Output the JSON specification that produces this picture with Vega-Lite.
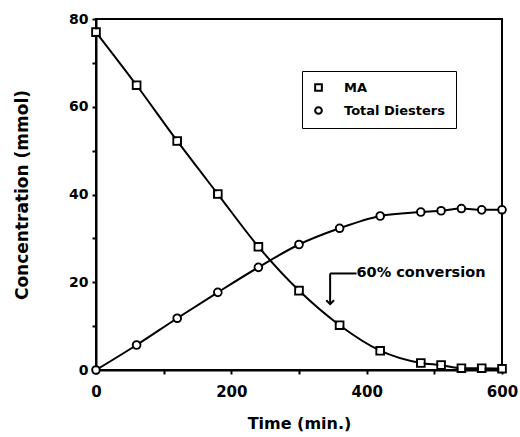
{
  "$schema": "https://vega.github.io/schema/vega-lite/v6.json",
  "width": 406,
  "height": 351,
  "autosize": {"type": "none"},
  "padding": {"left": 96, "top": 19, "right": 18, "bottom": 67},
  "background": "white",
  "config": {
    "view": {"stroke": "black", "strokeWidth": 2},
    "font": "DejaVu Sans",
    "axis": {
      "grid": false,
      "domainColor": "black",
      "domainWidth": 2,
      "tickColor": "black",
      "tickWidth": 2,
      "tickSize": 4,
      "labelColor": "black",
      "labelFont": "DejaVu Sans",
      "labelFontWeight": "bold",
      "labelFlush": false,
      "titleColor": "black",
      "titleFont": "DejaVu Sans",
      "titleFontWeight": "bold"
    },
    "legend": {
      "strokeColor": "black"
    }
  },
  "datasets": {
    "series": [
      {"t": 0, "c": 77.0, "s": "MA"},
      {"t": 60, "c": 64.9, "s": "MA"},
      {"t": 120, "c": 52.2, "s": "MA"},
      {"t": 180, "c": 40.1, "s": "MA"},
      {"t": 240, "c": 28.1, "s": "MA"},
      {"t": 300, "c": 18.1, "s": "MA"},
      {"t": 360, "c": 10.2, "s": "MA"},
      {"t": 420, "c": 4.4, "s": "MA"},
      {"t": 480, "c": 1.6, "s": "MA"},
      {"t": 510, "c": 1.1, "s": "MA"},
      {"t": 540, "c": 0.4, "s": "MA"},
      {"t": 570, "c": 0.4, "s": "MA"},
      {"t": 600, "c": 0.3, "s": "MA"},
      {"t": 0, "c": 0.0, "s": "Total Diesters"},
      {"t": 60, "c": 5.7, "s": "Total Diesters"},
      {"t": 120, "c": 11.8, "s": "Total Diesters"},
      {"t": 180, "c": 17.7, "s": "Total Diesters"},
      {"t": 240, "c": 23.4, "s": "Total Diesters"},
      {"t": 300, "c": 28.6, "s": "Total Diesters"},
      {"t": 360, "c": 32.3, "s": "Total Diesters"},
      {"t": 420, "c": 35.1, "s": "Total Diesters"},
      {"t": 480, "c": 36.0, "s": "Total Diesters"},
      {"t": 510, "c": 36.3, "s": "Total Diesters"},
      {"t": 540, "c": 36.8, "s": "Total Diesters"},
      {"t": 570, "c": 36.5, "s": "Total Diesters"},
      {"t": 600, "c": 36.5, "s": "Total Diesters"}
    ],
    "arrow": [
      {"t": 346, "t2": 385, "c": 22.0, "tip": 15.0, "label": "60% conversion"}
    ]
  },
  "layer": [
    {
      "data": {"name": "series"},
      "mark": {"type": "line", "interpolate": "monotone", "color": "black", "strokeWidth": 2},
      "encoding": {
        "x": {
          "field": "t", "type": "quantitative",
          "scale": {"domain": [0, 600], "nice": false},
          "axis": {
            "title": "Time (min.)",
            "values": [0, 100, 200, 300, 400, 500, 600],
            "labelExpr": "datum.value % 200 == 0 ? datum.label : ''",
            "labelFontSize": 15,
            "labelPadding": 10,
            "titleFontSize": 16,
            "titlePadding": 16
          }
        },
        "y": {
          "field": "c", "type": "quantitative",
          "scale": {"domain": [0, 80], "nice": false},
          "axis": {
            "title": "Concentration  (mmol)",
            "values": [0, 10, 20, 30, 40, 50, 60, 70, 80],
            "labelExpr": "datum.value % 20 == 0 ? datum.label : ''",
            "labelFontSize": 14,
            "labelPadding": 4,
            "titleFontSize": 17,
            "titlePadding": 37
          }
        },
        "detail": {"field": "s"}
      }
    },
    {
      "data": {"name": "series"},
      "mark": {"type": "point", "color": "black", "strokeWidth": 2, "size": 58, "opacity": 1},
      "encoding": {
        "x": {"field": "t", "type": "quantitative"},
        "y": {"field": "c", "type": "quantitative"},
        "shape": {
          "field": "s", "type": "nominal",
          "scale": {"domain": ["MA", "Total Diesters"], "range": ["square", "circle"]},
          "legend": {
            "title": null,
            "orient": "none",
            "legendX": 206,
            "legendY": 52,
            "padding": 10,
            "symbolSize": 45,
            "symbolStrokeWidth": 2,
            "symbolOpacity": 1,
            "labelFontSize": 13,
            "labelFontWeight": "bold",
            "labelColor": "black",
            "labelOffset": 19,
            "rowPadding": 8
          }
        }
      }
    },
    {
      "data": {"name": "series"},
      "mark": {"type": "point", "filled": true, "color": "white", "size": 30, "opacity": 1},
      "encoding": {
        "x": {"field": "t", "type": "quantitative"},
        "y": {"field": "c", "type": "quantitative"},
        "shape": {"field": "s", "type": "nominal"}
      }
    },
    {
      "data": {"name": "arrow"},
      "mark": {"type": "rule", "color": "black", "strokeWidth": 2},
      "encoding": {
        "x": {"field": "t", "type": "quantitative"},
        "x2": {"field": "t2"},
        "y": {"field": "c", "type": "quantitative"}
      }
    },
    {
      "data": {"name": "arrow"},
      "mark": {"type": "rule", "color": "black", "strokeWidth": 2},
      "encoding": {
        "x": {"field": "t", "type": "quantitative"},
        "y": {"field": "c", "type": "quantitative"},
        "y2": {"field": "tip"}
      }
    },
    {
      "data": {"name": "arrow"},
      "mark": {"type": "point", "shape": "M-1,-1L0,0L1,-1", "filled": false, "color": "black", "strokeWidth": 2, "size": 60, "opacity": 1},
      "encoding": {
        "x": {"field": "t", "type": "quantitative"},
        "y": {"field": "tip", "type": "quantitative"}
      }
    },
    {
      "data": {"name": "arrow"},
      "mark": {"type": "text", "align": "left", "baseline": "middle", "font": "DejaVu Sans", "fontWeight": "bold", "fontSize": 14.5, "color": "black"},
      "encoding": {
        "x": {"field": "t2", "type": "quantitative"},
        "y": {"field": "c", "type": "quantitative"},
        "text": {"field": "label"}
      }
    }
  ]
}
